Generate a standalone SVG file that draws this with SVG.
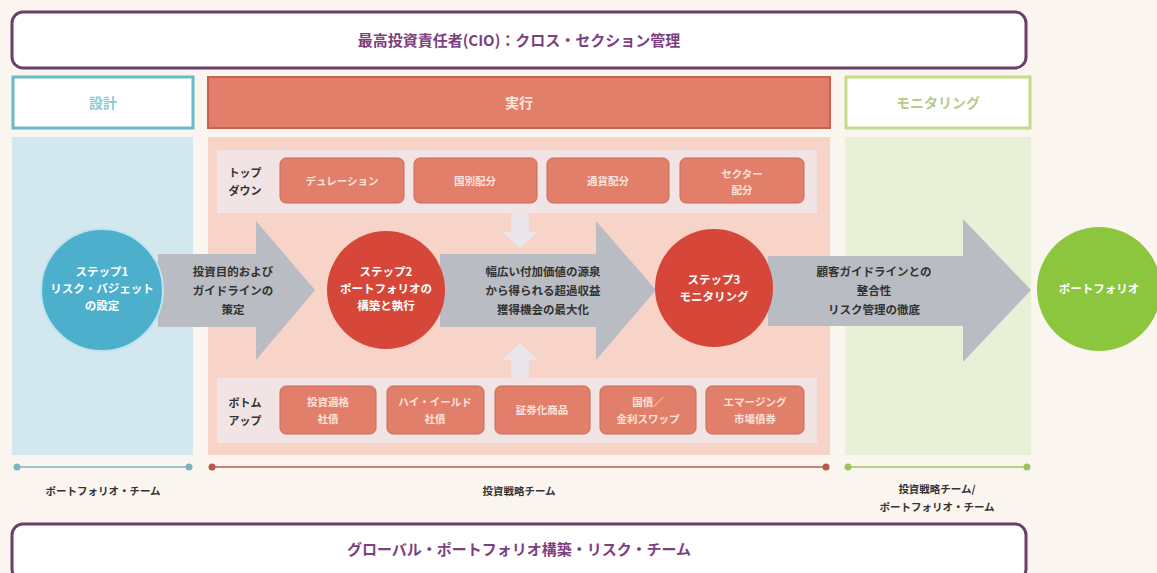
<svg xmlns="http://www.w3.org/2000/svg" width="1157" height="573" viewBox="0 0 1157 573">
<defs>
<style>
text{font-family:"Noto Sans CJK JP","Noto Sans",sans-serif;text-anchor:middle;font-weight:bold;}
.mgmt{fill:#ffffff;stroke:#6b3f6b;stroke-width:3;}
.mgmtt{fill:#7e3f80;font-size:15px;}
.tag{fill:#e27f6b;stroke:#c96a58;stroke-width:1;}
.tagt{fill:#fbe3dc;font-size:10.5px;}
.strip{fill:#f2e4e4;}
.arrow{fill:#b9bcc2;}
.arrowt{fill:#333;font-size:11.5px;}
.ct{fill:#ffffff;font-size:11.5px;}
.small{fill:#e9e6e9;}
.lbl{fill:#333;font-size:11px;}
.team{fill:#333;font-size:10.5px;}
</style>
</defs>
<rect width="1157" height="573" fill="#faf6ef"/>

<g id="cio">
<rect class="mgmt" x="12" y="12" width="1014" height="56" rx="11"/>
<text class="mgmtt" x="519" y="46">最高投資責任者(CIO)：クロス・セクション管理</text>
</g>

<g id="design-header">
<rect x="13" y="77" width="180" height="51" fill="#ffffff" stroke="#6bb8c6" stroke-width="3"/>
<text x="103" y="108" fill="#8ccad6" font-size="14">設計</text>
</g>
<g id="exec-header">
<rect x="208" y="77" width="622" height="51" fill="#e27f6b" stroke="#c6624f" stroke-width="2"/>
<text x="519" y="108" fill="#fde8e0" font-size="14">実行</text>
</g>
<g id="monitor-header">
<rect x="846" y="77" width="184" height="51" fill="#ffffff" stroke="#c6db88" stroke-width="3"/>
<text x="938" y="108" fill="#b9c98a" font-size="14">モニタリング</text>
</g>

<g id="panels">
<rect x="12" y="137" width="181" height="318" fill="#d3e7ef"/>
<rect x="208" y="137" width="622" height="318" fill="#f7d3c8"/>
<rect x="845" y="137" width="186" height="318" fill="#e8f1d7"/>
</g>

<g id="topdown">
<rect class="strip" x="217" y="150" width="600" height="63"/>
<text class="lbl" x="245" y="177" font-size="12">トップ</text>
<text class="lbl" x="245" y="195" font-size="12">ダウン</text>
<g id="td1"><rect class="tag" x="280" y="158" width="124" height="45" rx="6"/><text class="tagt" x="342" y="185">デュレーション</text></g>
<g id="td2"><rect class="tag" x="414" y="158" width="123" height="45" rx="6"/><text class="tagt" x="475" y="185">国別配分</text></g>
<g id="td3"><rect class="tag" x="547" y="158" width="122" height="45" rx="6"/><text class="tagt" x="608" y="185">通貨配分</text></g>
<g id="td4"><rect class="tag" x="680" y="158" width="124" height="45" rx="6"/><text class="tagt" x="742" y="178">セクター</text><text class="tagt" x="742" y="194">配分</text></g>
</g>

<g id="bottomup">
<rect class="strip" x="217" y="378" width="600" height="65"/>
<text class="lbl" x="245" y="407" font-size="12">ボトム</text>
<text class="lbl" x="245" y="425" font-size="12">アップ</text>
<g id="bu1"><rect class="tag" x="280" y="386" width="96" height="48" rx="6"/><text class="tagt" x="328" y="406">投資適格</text><text class="tagt" x="328" y="423">社債</text></g>
<g id="bu2"><rect class="tag" x="387" y="386" width="97" height="48" rx="6"/><text class="tagt" x="435" y="406">ハイ・イールド</text><text class="tagt" x="435" y="423">社債</text></g>
<g id="bu3"><rect class="tag" x="495" y="386" width="95" height="48" rx="6"/><text class="tagt" x="542" y="414">証券化商品</text></g>
<g id="bu4"><rect class="tag" x="600" y="386" width="96" height="48" rx="6"/><text class="tagt" x="648" y="406">国債／</text><text class="tagt" x="648" y="423">金利スワップ</text></g>
<g id="bu5"><rect class="tag" x="706" y="386" width="98" height="48" rx="6"/><text class="tagt" x="755" y="406">エマージング</text><text class="tagt" x="755" y="423">市場債券</text></g>
</g>

<g id="connectors">
<polygon class="arrow" points="158,254 256,254 256,221 315,290 256,360 256,327 158,327"/>
<polygon class="arrow" points="440,254 596,254 596,221 656,290 596,360 596,327 440,327"/>
<polygon class="arrow" points="768,256 963,256 963,219 1031,290 963,362 963,326 768,326"/>
<polygon class="small" points="511,213 529,213 529,232 538,232 520,248 502,232 511,232"/>
<polygon class="small" points="511,378 529,378 529,360 538,360 520,343 502,360 511,360"/>
<g id="team-lines">
<line x1="17" y1="467" x2="189" y2="467" stroke="#7fb3c2" stroke-width="1.5"/>
<circle cx="17" cy="467" r="3.5" fill="#7fb3c2"/><circle cx="189" cy="467" r="3.5" fill="#7fb3c2"/>
<line x1="212" y1="467" x2="826" y2="467" stroke="#b85a4a" stroke-width="1.5"/>
<circle cx="212" cy="467" r="3.5" fill="#b85a4a"/><circle cx="826" cy="467" r="3.5" fill="#b85a4a"/>
<line x1="848" y1="467" x2="1027" y2="467" stroke="#9cc45a" stroke-width="1.5"/>
<circle cx="848" cy="467" r="3.5" fill="#9cc45a"/><circle cx="1027" cy="467" r="3.5" fill="#9cc45a"/>
</g>
</g>

<g id="arrow-labels">
<text class="arrowt" x="233" y="276">投資目的および</text>
<text class="arrowt" x="233" y="295">ガイドラインの</text>
<text class="arrowt" x="233" y="314">策定</text>
<text class="arrowt" x="543" y="276">幅広い付加価値の源泉</text>
<text class="arrowt" x="543" y="295">から得られる超過収益</text>
<text class="arrowt" x="543" y="314">獲得機会の最大化</text>
<text class="arrowt" x="874" y="276">顧客ガイドラインとの</text>
<text class="arrowt" x="874" y="295">整合性</text>
<text class="arrowt" x="874" y="314">リスク管理の徹底</text>
</g>

<g id="step1">
<circle cx="102" cy="290" r="61" fill="#4cb0cc" stroke="#bfe3ee" stroke-width="2"/>
<text class="ct" x="102" y="276">ステップ1</text>
<text class="ct" x="102" y="293">リスク・バジェット</text>
<text class="ct" x="102" y="310">の設定</text>
</g>
<g id="step2">
<circle cx="386" cy="290" r="59" fill="#d6473a"/>
<text class="ct" x="386" y="276">ステップ2</text>
<text class="ct" x="386" y="293">ポートフォリオの</text>
<text class="ct" x="386" y="310">構築と執行</text>
</g>
<g id="step3">
<circle cx="714" cy="288" r="59" fill="#d6473a"/>
<text class="ct" x="714" y="284">ステップ3</text>
<text class="ct" x="714" y="301">モニタリング</text>
</g>
<g id="portfolio">
<circle cx="1099" cy="289" r="62" fill="#8cc63e"/>
<text class="ct" x="1099" y="293" font-size="10.5">ポートフォリオ</text>
</g>

<g id="team-labels">
<text class="team" x="103" y="495">ポートフォリオ・チーム</text>
<text class="team" x="519" y="495">投資戦略チーム</text>
<text class="team" x="937" y="493">投資戦略チーム/</text>
<text class="team" x="937" y="511">ポートフォリオ・チーム</text>
</g>

<g id="global-team">
<rect class="mgmt" x="12" y="524" width="1014" height="56" rx="11"/>
<text class="mgmtt" x="519" y="555">グローバル・ポートフォリオ構築・リスク・チーム</text>
</g>
</svg>
